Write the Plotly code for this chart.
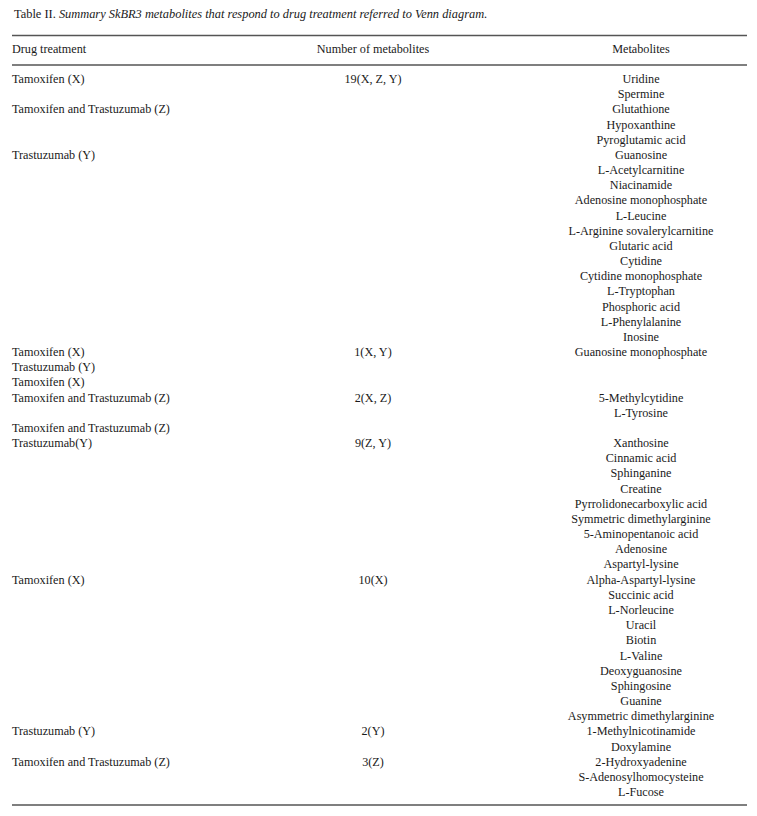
import plotly.graph_objects as go

caption_label = "Table II."
caption_text = "Summary SkBR3 metabolites that respond to drug treatment referred to Venn diagram."
headers = ["Drug treatment", "Number of metabolites", "Metabolites"]

drug_treatment = [
    "Tamoxifen (X)", "", "Tamoxifen and Trastuzumab (Z)", "", "", "Trastuzumab (Y)",
    "", "", "", "", "", "", "", "", "", "", "", "",
    "Tamoxifen (X)", "Trastuzumab (Y)", "Tamoxifen (X)", "Tamoxifen and Trastuzumab (Z)", "",
    "Tamoxifen and Trastuzumab (Z)", "Trastuzumab(Y)",
    "", "", "", "", "", "", "", "",
    "Tamoxifen (X)", "", "", "", "", "", "", "", "", "",
    "Trastuzumab (Y)", "", "Tamoxifen and Trastuzumab (Z)", "", "",
]

number_of_metabolites = [
    "19(X, Z, Y)", "", "", "", "", "", "", "", "", "", "", "", "", "", "", "", "", "",
    "1(X, Y)", "", "", "2(X, Z)", "", "", "9(Z, Y)",
    "", "", "", "", "", "", "", "",
    "10(X)", "", "", "", "", "", "", "", "", "",
    "2(Y)", "", "3(Z)", "", "",
]

metabolites = [
    "Uridine", "Spermine", "Glutathione", "Hypoxanthine", "Pyroglutamic acid",
    "Guanosine", "L-Acetylcarnitine", "Niacinamide", "Adenosine monophosphate",
    "L-Leucine", "L-Arginine sovalerylcarnitine", "Glutaric acid", "Cytidine",
    "Cytidine monophosphate", "L-Tryptophan", "Phosphoric acid", "L-Phenylalanine",
    "Inosine", "Guanosine monophosphate", "", "", "5-Methylcytidine", "L-Tyrosine", "",
    "Xanthosine", "Cinnamic acid", "Sphinganine", "Creatine",
    "Pyrrolidonecarboxylic acid", "Symmetric dimethylarginine", "5-Aminopentanoic acid",
    "Adenosine", "Aspartyl-lysine", "Alpha-Aspartyl-lysine", "Succinic acid",
    "L-Norleucine", "Uracil", "Biotin", "L-Valine", "Deoxyguanosine", "Sphingosine",
    "Guanine", "Asymmetric dimethylarginine", "1-Methylnicotinamide", "Doxylamine",
    "2-Hydroxyadenine", "S-Adenosylhomocysteine", "L-Fucose",
]

# page body has an 8px margin, so the figure is inset and axes are offset
W, H = 757, 816
PAD = 8
FONT = "Liberation Serif, Times New Roman, serif"
TXT = "#1a1a1a"
FS = 12.2
row0, pitch = 80.0, 15.17
col_x = [12, 373, 641]

ys = [row0 + pitch * i for i in range(len(metabolites))]

fig = go.Figure()

def add_col(texts, x, pos):
    xs, yy, tt = [], [], []
    for y, t in zip(ys, texts):
        if t:
            xs.append(x); yy.append(y); tt.append(t)
    fig.add_trace(go.Scatter(
        x=xs, y=yy, text=tt, mode="text", textposition=pos,
        textfont=dict(family=FONT, size=FS, color=TXT),
        hoverinfo="skip", showlegend=False,
    ))

add_col(drug_treatment, col_x[0], "middle right")
add_col(number_of_metabolites, col_x[1], "middle center")
add_col(metabolites, col_x[2], "middle center")

fig.add_trace(go.Scatter(
    x=[col_x[0]], y=[50], text=[headers[0]], mode="text", textposition="middle right",
    textfont=dict(family=FONT, size=FS, color=TXT), hoverinfo="skip", showlegend=False))
fig.add_trace(go.Scatter(
    x=col_x[1:], y=[50, 50], text=headers[1:], mode="text", textposition="middle center",
    textfont=dict(family=FONT, size=FS, color=TXT), hoverinfo="skip", showlegend=False))

fig.add_annotation(
    x=12, y=14, xref="x", yref="y", xanchor="left", yanchor="middle", showarrow=False,
    text=f"{caption_label} <i>{caption_text}</i>",
    font=dict(family=FONT, size=12.4, color=TXT),
)

for y in [35.5, 65, 805]:
    fig.add_shape(type="line", xref="x", yref="y", x0=12, x1=747, y0=y, y1=y,
                  line=dict(color="#555555", width=1.3))

fig.update_xaxes(range=[PAD, W - PAD], visible=False, fixedrange=True)
fig.update_yaxes(range=[H - PAD, PAD], visible=False, fixedrange=True)
fig.update_layout(
    width=W - 2 * PAD, height=H - 2 * PAD, margin=dict(l=0, r=0, t=0, b=0),
    paper_bgcolor="white", plot_bgcolor="white",
)

fig.write_html("out.html", config={"displayModeBar": False})
